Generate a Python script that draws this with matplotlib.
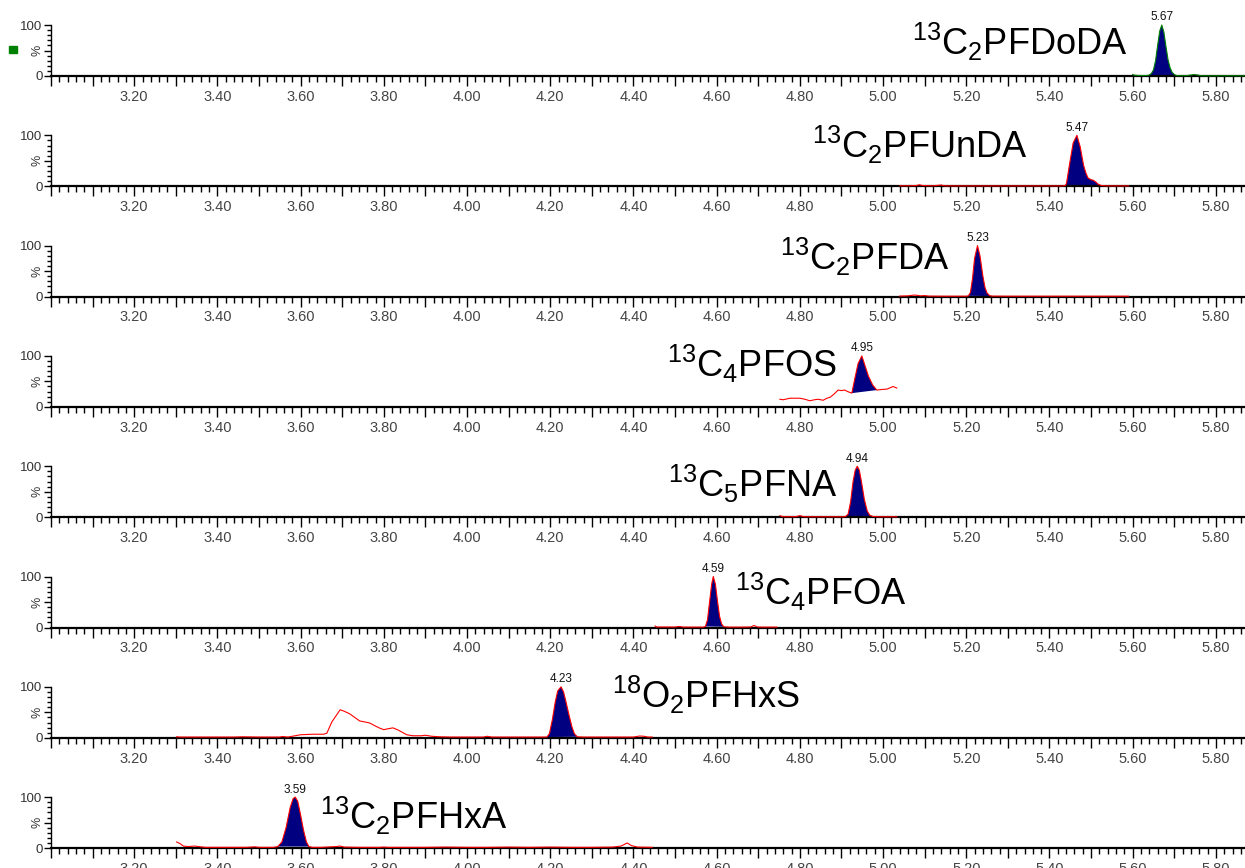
import numpy as np
import matplotlib
matplotlib.use("Agg")
import matplotlib.pyplot as plt
from matplotlib.patches import Rectangle
from matplotlib.ticker import FixedLocator, FuncFormatter, MultipleLocator

plt.rcParams.update({
    "font.family": ["Liberation Sans", "DejaVu Sans"],
    "mathtext.fontset": "custom",
    "mathtext.rm": "Liberation Sans",
    "mathtext.it": "Liberation Sans:italic",
    "mathtext.default": "regular",
})

# compound labels, top panel first
names = [r"$^{13}$C$_2$PFDoDA", r"$^{13}$C$_2$PFUnDA", r"$^{13}$C$_2$PFDA",
         r"$^{13}$C$_4$PFOS", r"$^{13}$C$_5$PFNA", r"$^{13}$C$_4$PFOA",
         r"$^{18}$O$_2$PFHxS", r"$^{13}$C$_2$PFHxA"]
rt_labels = ["5.67", "5.47", "5.23", "4.95", "4.94", "4.59", "4.23", "3.59"]

# traces (time in min, intensity in %)
t_pfdoda = [5.600, 5.605, 5.615, 5.630, 5.635, 5.640, 5.645, 5.650, 5.655, 5.660, 5.665, 5.670,
            5.675, 5.680, 5.685, 5.690, 5.695, 5.700, 5.705, 5.715, 5.730, 5.740, 5.748, 5.756,
            5.765, 5.790, 5.830, 5.870]
y_pfdoda = [3, 1.5, 1, 0.8, 1, 2, 5, 12, 30, 60, 88, 100,
            86, 58, 32, 16, 7, 3, 1, 0.5, 0.8, 2, 3, 2,
            0.5, 0.3, 0.5, 0.3]

t_pfunda = [5.040, 5.060, 5.080, 5.087, 5.095, 5.120, 5.140, 5.148, 5.170, 5.220, 5.280, 5.340,
            5.400, 5.430, 5.438, 5.441, 5.449, 5.457, 5.466, 5.474, 5.482, 5.488, 5.493, 5.500,
            5.505, 5.512, 5.517, 5.525, 5.540, 5.590]
y_pfunda = [1, 1, 1.5, 3, 1.5, 1, 2.5, 1, 0.8, 0.8, 0.8, 0.8,
            0.8, 0.8, 1.5, 6, 47, 85, 100, 77, 41, 25, 16, 13,
            12, 8, 4, 1.5, 0.8, 0.8]

t_pfda = [5.040, 5.060, 5.075, 5.082, 5.090, 5.100, 5.110, 5.150, 5.200, 5.205, 5.210, 5.215,
          5.220, 5.227, 5.233, 5.240, 5.245, 5.250, 5.256, 5.262, 5.300, 5.400, 5.500, 5.590]
y_pfda = [1, 1.5, 3, 2.5, 1.5, 2, 1, 0.8, 0.8, 1.5, 8, 35,
          75, 100, 80, 40, 18, 7, 2, 1, 0.8, 0.8, 0.8, 0.8]

t_pfos = [4.752, 4.760, 4.776, 4.800, 4.812, 4.824, 4.835, 4.844, 4.856, 4.865, 4.873, 4.882,
          4.892, 4.900, 4.908, 4.915, 4.925, 4.932, 4.940, 4.949, 4.957, 4.965, 4.975, 4.985,
          4.995, 5.010, 5.024, 5.033]
y_pfos = [15, 14, 17, 17, 15, 12, 14, 15, 13, 17, 19, 25,
          33, 32, 33, 30, 27, 55, 85, 100, 80, 60, 43, 33,
          34, 35, 40, 37]

t_pfna = [4.752, 4.760, 4.770, 4.790, 4.800, 4.810, 4.830, 4.860, 4.890, 4.905, 4.910, 4.916,
          4.922, 4.928, 4.933, 4.938, 4.943, 4.948, 4.955, 4.962, 4.968, 4.975, 4.990, 5.010, 5.033]
y_pfna = [3, 1, 1, 1, 3, 1, 0.8, 0.8, 0.8, 0.8, 1.5, 6,
          30, 70, 92, 100, 92, 70, 35, 12, 4, 1.5, 0.8, 0.8, 0.8]

t_pfoa = [4.452, 4.456, 4.470, 4.500, 4.510, 4.520, 4.550, 4.568, 4.573, 4.578, 4.583, 4.588,
          4.592, 4.597, 4.602, 4.607, 4.612, 4.617, 4.630, 4.660, 4.682, 4.690, 4.698, 4.710, 4.745]
y_pfoa = [3, 1, 1, 1, 2, 0.8, 0.8, 0.8, 2, 15, 50, 85,
          100, 85, 52, 22, 7, 1.5, 0.8, 0.8, 1, 4, 1, 0.8, 0.8]

t_pfhxs = [3.302, 3.310, 3.350, 3.400, 3.440, 3.460, 3.500, 3.550, 3.556, 3.570, 3.600, 3.630,
           3.655, 3.663, 3.675, 3.695, 3.705, 3.718, 3.730, 3.742, 3.755, 3.766, 3.780, 3.790,
           3.800, 3.812, 3.822, 3.835, 3.855, 3.870, 3.890, 3.900, 3.915, 3.935, 3.960, 4.000,
           4.040, 4.048, 4.060, 4.100, 4.150, 4.185, 4.192, 4.198, 4.205, 4.212, 4.218, 4.226,
           4.232, 4.238, 4.245, 4.252, 4.258, 4.265, 4.280, 4.350, 4.400, 4.415, 4.425, 4.435, 4.445]
y_pfhxs = [2, 1.5, 1.5, 1.5, 1.5, 2, 1.5, 1.5, 2.5, 1.5, 6, 7,
           7, 9, 31, 55, 52, 47, 40, 33, 31, 29, 23, 19,
           16, 18, 19.5, 15, 6, 4, 4, 5, 3, 2, 1.5, 1.5,
           1.5, 3, 1.5, 1.5, 1.5, 1.5, 1.5, 8, 35, 70, 92, 100,
           90, 70, 45, 22, 8, 2, 1.5, 1.5, 1.5, 3.5, 3, 1.5, 1.5]

t_pfhxa = [3.302, 3.310, 3.318, 3.330, 3.345, 3.355, 3.370, 3.400, 3.440, 3.470, 3.490, 3.500,
           3.520, 3.535, 3.545, 3.555, 3.565, 3.575, 3.582, 3.587, 3.593, 3.600, 3.607, 3.614,
           3.620, 3.628, 3.650, 3.685, 3.695, 3.705, 3.740, 3.790, 3.800, 3.810, 3.830, 3.900,
           3.950, 4.000, 4.050, 4.100, 4.150, 4.200, 4.250, 4.300, 4.350, 4.370, 4.385, 4.395,
           4.410, 4.445]
y_pfhxa = [12, 9, 4, 3, 4, 3, 1.5, 1.5, 1.5, 1.5, 2.5, 1.5,
           1.5, 1.5, 3, 12, 40, 80, 97, 100, 92, 65, 35, 12,
           3, 1.5, 1.5, 3, 4, 2, 1.5, 1.5, 2, 1.5, 1.5, 1.5,
           2, 1.5, 1.5, 2, 1.5, 2, 1.5, 1.5, 2, 4, 10, 5,
           2, 1.5]

traces = [(t_pfdoda, y_pfdoda), (t_pfunda, y_pfunda), (t_pfda, y_pfda), (t_pfos, y_pfos),
          (t_pfna, y_pfna), (t_pfoa, y_pfoa), (t_pfhxs, y_pfhxs), (t_pfhxa, y_pfhxa)]

# integration limits of the filled peak
peak_start = [5.635, 5.438, 5.205, 4.925, 4.910, 4.573, 4.192, 3.545]
peak_end = [5.705, 5.525, 5.262, 4.985, 4.975, 4.617, 4.265, 3.625]

# where each compound name sits (left edge in min, baseline in %)
name_x = [5.07, 4.829, 4.752, 4.48, 4.483, 4.644, 4.349, 3.647]
name_y = [41, 55, 52, 59, 40, 44, 58, 37]

line_colors = ["#008000"] + ["#ff0000"] * 7
navy = "#000080"

W, H = 1245, 868
fig = plt.figure(figsize=(W / 100, H / 100), dpi=100)


def even_label(v, pos):
    k = int(round(v * 10))
    return f"{v:.2f}" if k % 2 == 0 and k > 30 else ""


for i in range(8):
    bottom_px = 76 + 110.3 * i
    ax = fig.add_axes([51 / W, 1 - bottom_px / H, 1194 / W, 51 / H])
    t, y = np.array(traces[i][0]), np.array(traces[i][1])

    sel = (t >= peak_start[i] - 1e-9) & (t <= peak_end[i] + 1e-9)
    ax.fill(t[sel], y[sel], color=navy, lw=0, zorder=2)
    ax.plot(t, y, color=line_colors[i], lw=0.8, zorder=3, clip_on=False)

    apex = t[np.argmax(y)]
    ax.text(apex, 103, rt_labels[i], ha="center", va="bottom", fontsize=8.5, color="#111111")
    ax.text(name_x[i], name_y[i], names[i], ha="left", va="baseline", fontsize=26, color="black")

    ax.set_xlim(3.0, 5.87)
    ax.set_ylim(0, 100)
    for s in ["top", "right"]:
        ax.spines[s].set_visible(False)
    ax.spines["bottom"].set_linewidth(1.6)
    ax.spines["left"].set_linewidth(1.0)

    ax.xaxis.set_major_locator(FixedLocator(np.arange(3.0, 5.871, 0.1)))
    ax.xaxis.set_major_formatter(FuncFormatter(even_label))
    ax.xaxis.set_minor_locator(MultipleLocator(0.02))
    ax.tick_params(axis="x", which="major", length=7, width=1, pad=3,
                   labelsize=10.5, labelcolor="#444444")
    ax.tick_params(axis="x", which="minor", length=4, width=1)

    ax.set_yticks([0, 50, 100])
    ax.set_yticklabels(["0", "", "100"])
    ax.yaxis.set_minor_locator(MultipleLocator(10))
    ax.tick_params(axis="y", which="major", length=5, width=1, pad=1,
                   labelsize=9.5, labelcolor="#333333")
    ax.tick_params(axis="y", which="minor", length=3, width=1)
    ax.text(-0.006, 0.5, "%", rotation=90, transform=ax.transAxes, ha="right", va="center",
            fontsize=9, color="#333333")

# small green marker left of the first trace
fig.add_artist(Rectangle((9 / W, 1 - 53 / H), 8 / W, 7 / H, transform=fig.transFigure,
                         color="#008000"))

fig.savefig("out.png", dpi=100, facecolor="white")
